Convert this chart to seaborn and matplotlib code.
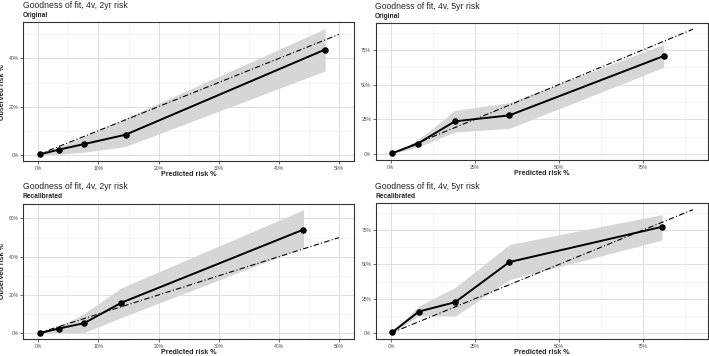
import matplotlib
matplotlib.use("Agg")
import matplotlib.pyplot as plt
import seaborn as sns
import numpy as np
import pandas as pd
from matplotlib.ticker import MultipleLocator, FuncFormatter

sns.set_theme(style="white")
plt.rcParams['font.family'] = ['Liberation Sans', 'DejaVu Sans']

# ---- data (percent) ----
titles = ["Goodness of fit, 4v, 2yr risk", "Goodness of fit, 4v, 5yr risk",
          "Goodness of fit, 4v, 2yr risk", "Goodness of fit, 4v, 5yr risk"]
subtitles = ["Original", "Original", "Recalibrated", "Recalibrated"]

pred_orig_2yr = [0.2, 3.4, 7.6, 14.5, 47.7]
obs_orig_2yr = [0.1, 2.1, 4.4, 8.3, 43.7]
lo_orig_2yr = [0.0, 0.2, 1.0, 3.4, 34.8]
hi_orig_2yr = [0.3, 3.2, 7.6, 15.2, 52.4]

pred_orig_5yr = [0.3, 8.0, 19.1, 35.3, 81.3]
obs_orig_5yr = [0.5, 7.5, 23.6, 27.9, 70.7]
lo_orig_5yr = [0.0, 5.0, 15.9, 18.5, 62.5]
hi_orig_5yr = [1.0, 10.0, 31.5, 37.0, 79.1]

pred_recal_2yr = [0.2, 3.4, 7.6, 13.8, 44.1]
obs_recal_2yr = [0.0, 2.4, 5.2, 15.9, 54.2]
lo_recal_2yr = [0.0, 0.2, 0.3, 8.1, 44.9]
hi_recal_2yr = [0.3, 3.3, 10.2, 23.7, 64.6]

pred_recal_5yr = [0.3, 8.3, 19.1, 35.3, 80.8]
obs_recal_5yr = [0.5, 15.7, 22.5, 51.8, 77.5]
lo_recal_5yr = [0.0, 12.6, 12.3, 39.0, 67.8]
hi_recal_5yr = [1.0, 19.9, 33.2, 64.6, 86.4]

diag_2yr = [0, 50]
diag_5yr = [0, 90]

x_major = [10, 25, 10, 25]
y_major = [20, 25, 20, 25]

panels = [
    (pred_orig_2yr, obs_orig_2yr, lo_orig_2yr, hi_orig_2yr, diag_2yr),
    (pred_orig_5yr, obs_orig_5yr, lo_orig_5yr, hi_orig_5yr, diag_5yr),
    (pred_recal_2yr, obs_recal_2yr, lo_recal_2yr, hi_recal_2yr, diag_2yr),
    (pred_recal_5yr, obs_recal_5yr, lo_recal_5yr, hi_recal_5yr, diag_5yr),
]

W, H = 709, 356
fig = plt.figure(figsize=(W / 100, H / 100), dpi=100)

# panel boxes in pixels: left, top, right, bottom
boxes = [(23.3, 22.3, 354, 161), (375.7, 23, 708, 160.3),
         (23.3, 203.5, 354, 339.3), (376, 203.5, 708, 339.2)]

pct = FuncFormatter(lambda v, p: f"{v:.0f}%")

for i, ((px, py, lo, hi, dg), (l, t, r, b)) in enumerate(zip(panels, boxes)):
    ax = fig.add_axes([l / W, 1 - b / H, (r - l) / W, (b - t) / H])
    ax.fill_between(px, lo, hi, color='#d6d6d6', lw=0, zorder=1)
    ax.plot(dg, dg, color='black', lw=0.8, ls=(0, (5, 2, 1, 2)), zorder=2)
    df = pd.DataFrame({"pred": px, "obs": py})
    sns.lineplot(data=df, x="pred", y="obs", color='black', lw=1.4, ax=ax, zorder=3)
    sns.scatterplot(data=df, x="pred", y="obs", color='black', s=22, edgecolor='black',
                    linewidth=0, ax=ax, zorder=4)
    xmax = dg[1]
    ax.set_xlim(-0.05 * xmax, xmax * 1.05)
    ymax = max(max(hi), xmax)
    ax.set_ylim(-0.05 * ymax, ymax * 1.05)
    ax.xaxis.set_major_locator(MultipleLocator(x_major[i]))
    ax.xaxis.set_minor_locator(MultipleLocator(x_major[i] / 2))
    ax.yaxis.set_major_locator(MultipleLocator(y_major[i]))
    ax.yaxis.set_minor_locator(MultipleLocator(y_major[i] / 2))
    ax.xaxis.set_major_formatter(pct)
    ax.yaxis.set_major_formatter(pct)
    ax.grid(which='major', color='#dedede', lw=0.7, zorder=0)
    ax.grid(which='minor', color='#ededed', lw=0.4, zorder=0)
    ax.set_axisbelow(True)
    for s in ax.spines.values():
        s.set_color('#333333')
        s.set_linewidth(0.8)
    ax.tick_params(which='major', length=2, width=0.5, color='#333333', labelsize=3.6,
                   labelcolor='#4d4d4d', pad=1.3, bottom=True, left=True)
    ax.tick_params(which='minor', length=0)
    ax.set_xlabel("Predicted risk %", fontsize=5.1, fontweight='bold', labelpad=0.3)
    if i % 2 == 0:
        ax.set_ylabel("Observed risk %", fontsize=5.1, fontweight='bold', labelpad=2)
    else:
        ax.set_ylabel("")
    tx = l - 0.6
    fig.text(tx / W, 1 - (t - 21) / H, titles[i], fontsize=6.2, va='top', ha='left')
    fig.text(tx / W, 1 - (t - 10.3) / H, subtitles[i], fontsize=4.8, fontweight='bold',
             va='top', ha='left')

fig.savefig("out.png", dpi=100)
